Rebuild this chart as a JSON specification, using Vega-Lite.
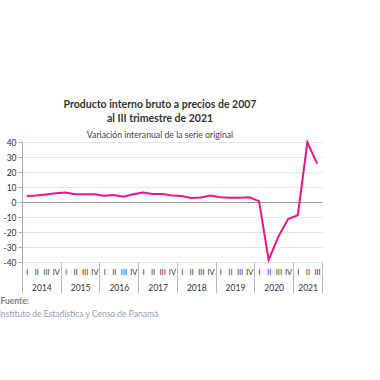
{
  "$schema": "https://vega.github.io/schema/vega-lite/v6.json",
  "width": 300,
  "height": 120,
  "autosize": {"type": "none"},
  "padding": {"left": 22, "top": 142, "right": 58, "bottom": 118},
  "background": "white",
  "config": {"view": {"stroke": null}, "font": "Lato"},
  "title": {
    "text": ["Producto interno bruto a precios de 2007", "al III trimestre de 2021"],
    "subtitle": "Variación interanual de la serie original",
    "anchor": "middle",
    "frame": "group",
    "dx": -12,
    "offset": -2,
    "fontSize": 10.5,
    "fontWeight": "bold",
    "color": "#333333",
    "lineHeight": 14,
    "subtitleFontSize": 8.7,
    "subtitleColor": "#444444",
    "subtitlePadding": 7
  },
  "data": {
    "values": [
      {"fecha": "2014-02-15", "v": 4.0},
      {"fecha": "2014-05-16", "v": 4.3},
      {"fecha": "2014-08-16", "v": 5.0},
      {"fecha": "2014-11-15", "v": 5.8},
      {"fecha": "2015-02-15", "v": 6.4},
      {"fecha": "2015-05-16", "v": 5.1},
      {"fecha": "2015-08-16", "v": 5.1},
      {"fecha": "2015-11-15", "v": 5.2},
      {"fecha": "2016-02-15", "v": 4.2},
      {"fecha": "2016-05-16", "v": 4.7},
      {"fecha": "2016-08-16", "v": 3.5},
      {"fecha": "2016-11-15", "v": 5.1},
      {"fecha": "2017-02-15", "v": 6.4},
      {"fecha": "2017-05-16", "v": 5.3},
      {"fecha": "2017-08-16", "v": 5.3},
      {"fecha": "2017-11-15", "v": 4.4},
      {"fecha": "2018-02-15", "v": 4.0},
      {"fecha": "2018-05-16", "v": 2.6},
      {"fecha": "2018-08-16", "v": 3.0},
      {"fecha": "2018-11-15", "v": 4.3},
      {"fecha": "2019-02-15", "v": 3.2},
      {"fecha": "2019-05-16", "v": 2.8},
      {"fecha": "2019-08-16", "v": 2.8},
      {"fecha": "2019-11-15", "v": 3.2},
      {"fecha": "2020-02-15", "v": 0.6},
      {"fecha": "2020-05-16", "v": -38.6},
      {"fecha": "2020-08-16", "v": -23.0},
      {"fecha": "2020-11-15", "v": -11.3},
      {"fecha": "2021-02-15", "v": -8.8},
      {"fecha": "2021-05-16", "v": 39.8},
      {"fecha": "2021-08-16", "v": 25.6}
    ]
  },
  "layer": [
    {
      "mark": {"type": "line", "color": "#e5168e", "strokeWidth": 2},
      "encoding": {
        "x": {
          "field": "fecha",
          "type": "temporal",
          "scale": {
            "type": "utc",
            "domain": [
              {"year": 2014, "month": 1, "date": 1, "utc": true},
              {"year": 2021, "month": 10, "date": 1, "utc": true}
            ]
          },
          "axis": {
            "orient": "bottom",
            "tickCount": {"interval": "month", "step": 3},
            "labelExpr": "utcyear(datum.value) == 2021 && utcmonth(datum.value) == 9 ? '' : (utcmonth(datum.value) == 0 ? 'I' : utcmonth(datum.value) == 3 ? 'II' : utcmonth(datum.value) == 6 ? 'III' : 'IV')",
            "labelOffset": 4.8,
            "labelAlign": "center",
            "labelFlush": false,
            "labelOverlap": false,
            "labelBound": false,
            "ticks": false,
            "tickSize": 0,
            "domain": false,
            "grid": false,
            "labelPadding": 6,
            "labelFontSize": 7.5,
            "labelColor": "#333333",
            "title": "Fuente:",
            "titleX": -22,
            "titleY": 38,
            "titleAlign": "left",
            "titleAnchor": "start",
            "titleBaseline": "middle",
            "titleFontSize": 8.5,
            "titleFontWeight": "bold",
            "titleColor": "#808080"
          }
        },
        "y": {
          "field": "v",
          "type": "quantitative",
          "scale": {"domain": [-40, 40], "nice": false},
          "axis": {
            "title": null,
            "values": [-40, -30, -20, -10, 0, 10, 20, 30, 40],
            "labelExpr": "'' + datum.value",
            "grid": true,
            "gridColor": {"condition": {"test": "datum.value === 0", "value": "#9a9a9a"}, "value": "#e6e6e6"},
            "domainColor": "#aaaaaa",
            "tickColor": "#aaaaaa",
            "tickSize": 4,
            "labelPadding": 2,
            "labelFontSize": 8.5,
            "labelColor": "#333333"
          }
        }
      }
    },
    {
      "mark": {"type": "line", "opacity": 0},
      "encoding": {
        "x": {
          "field": "fecha",
          "type": "temporal",
          "axis": {
            "orient": "bottom",
            "values": [
              {"year": 2014, "month": 1, "date": 1, "utc": true},
              {"year": 2015, "month": 1, "date": 1, "utc": true},
              {"year": 2016, "month": 1, "date": 1, "utc": true},
              {"year": 2017, "month": 1, "date": 1, "utc": true},
              {"year": 2018, "month": 1, "date": 1, "utc": true},
              {"year": 2019, "month": 1, "date": 1, "utc": true},
              {"year": 2020, "month": 1, "date": 1, "utc": true},
              {"year": 2021, "month": 1, "date": 1, "utc": true},
              {"year": 2021, "month": 10, "date": 1, "utc": true}
            ],
            "labelExpr": "utcmonth(datum.value) == 9 ? '' : '' + utcyear(datum.value)",
            "labelOffset": {"condition": {"test": "utcyear(datum.value) == 2021", "value": 14.5}, "value": 19.4},
            "labelAlign": "center",
            "labelFlush": false,
            "labelOverlap": false,
            "labelBound": false,
            "ticks": true,
            "tickSize": 31,
            "tickColor": "#bbbbbb",
            "domain": false,
            "grid": false,
            "labelPadding": -10,
            "labelFontSize": 8.5,
            "labelColor": "#333333",
            "title": "Instituto de Estadística y Censo de Panamá",
            "titleX": -24,
            "titleY": 51,
            "titleAlign": "left",
            "titleAnchor": "start",
            "titleBaseline": "middle",
            "titleFontSize": 8.5,
            "titleFontWeight": "normal",
            "titleColor": "#8fa0b4"
          }
        },
        "y": {"field": "v", "type": "quantitative", "axis": null}
      }
    }
  ],
  "resolve": {"axis": {"x": "independent", "y": "independent"}}
}
